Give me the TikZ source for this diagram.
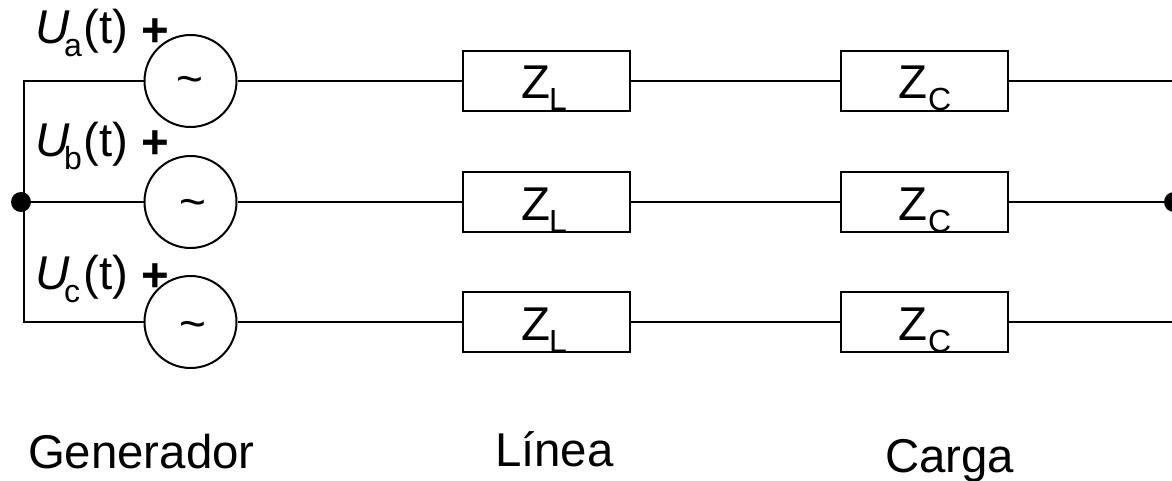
\documentclass[tikz,border=0pt]{standalone}
\usepackage{fontspec}
\setmainfont{Liberation Sans}
\newcommand{\bigfs}{\fontsize{47.4}{50}\selectfont}
\newcommand{\subfs}{\fontsize{32}{34}\selectfont}
\newcommand{\ulabel}[2]{\bigfs{\itshape U}\kern-5pt\raisebox{#2}{\makebox[19pt][l]{\subfs #1}}(t)}
\tikzset{
  wire/.style={line width=2pt,black},
  srcnode/.style={circle,draw,line width=2pt,minimum size=92pt,inner sep=0pt,fill=white},
  imp/.style={rectangle,draw,line width=2pt,minimum width=167pt,minimum height=60pt,inner sep=0pt},
  joint/.style={circle,fill=black,inner sep=0pt,minimum size=20pt},
  lab/.style={anchor=base west,inner sep=0pt,outer sep=0pt,text=black},
  tld/.style={anchor=base,inner sep=0pt,font=\fontsize{46}{48}\selectfont}
}
\begin{document}
\begin{tikzpicture}[x=1pt,y=-1pt]
\useasboundingbox (0,0) rectangle (1172,481);
\clip (0,0) rectangle (1172,481);
\foreach \n/\y/\tx/\ty in {a/81/189.5/95,b/202/192.5/218,c/322/192.5/339}{
  \node[srcnode] (s\n) at (190.5,\y) {};
  \node[tld] (t\n) at (\tx,\ty) {\symbol{126}};
  \node[imp] (zl\n) at (546.5,\y) {};
  \node[imp] (zc\n) at (924,\y) {};
  \coordinate (e\n) at (1172,\y);
  \coordinate (w\n) at (24,\y);
  \draw[wire] (s\n) -- (zl\n);
  \draw[wire] (zl\n) -- (zc\n);
  \draw[wire] (zc\n) -- (e\n);
}
\draw[wire,line cap=rect] (sa) -- (wa) -- (wc) -- (sc);
\node[joint] (jleft) at (21,202) {};
\node[joint] (jright) at (1174,202) {};
\draw[wire] (jleft) -- (sb);
\draw[wire] (zcb) -- (jright);
\foreach \n/\ub/\pb in {a/44/47,b/156.5/159,c/289/291}{
  \node[lab] (ul\n) at (35,\ub) {\ulabel{\n}{-13pt}};
  \node[lab] (pl\n) at (141,\pb) {\bigfs\bfseries +};
}
\foreach \n/\y in {a/99,b/220,c/340}{
  \node[lab] (zlt\n) at (521,\y) {\bigfs Z};
  \node[lab] (zls\n) at (549,\y+12) {\subfs L};
  \node[lab] (zct\n) at (898,\y) {\bigfs Z};
  \node[lab] (zcs\n) at (928,\y+12) {\subfs C};
}
\node[lab] (gen) at (28,468) {\bigfs Generador};
\node[lab] (lin) at (495,466) {\bigfs Línea};
\node[lab] (car) at (885,472) {\bigfs Carga};
\end{tikzpicture}
\end{document}
